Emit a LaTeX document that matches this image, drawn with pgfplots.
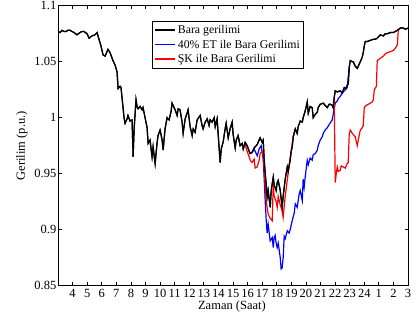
\documentclass[border=0pt]{standalone}
\usepackage{fontspec}
\setmainfont{Liberation Serif}
\usepackage{pgfplots}
\usepackage{pgfplotstable}
\pgfplotsset{compat=1.18}
\pgfplotstableread{
x y
3.00 1.077
3.14 1.076
3.27 1.078
3.41 1.077
3.55 1.077
3.68 1.078
3.82 1.078
3.96 1.077
4.10 1.076
4.30 1.074
4.51 1.076
4.64 1.077
4.78 1.077
4.99 1.075
5.13 1.071
5.33 1.073
5.54 1.074
5.68 1.076
5.81 1.070
5.95 1.064
6.09 1.056
6.23 1.055
6.43 1.061
6.57 1.058
6.77 1.051
6.91 1.047
7.05 1.041
7.12 1.026
7.26 1.028
7.32 1.027
7.39 1.018
7.46 1.009
7.53 1.000
7.60 0.995
7.74 0.999
7.80 1.002
7.94 0.997
8.08 0.998
8.15 0.965
8.22 0.990
8.35 1.016
8.42 1.010
8.49 1.008
8.63 1.010
8.77 1.007
8.83 1.009
8.97 1.000
9.11 0.991
9.18 0.977
9.31 0.980
9.45 0.965
9.52 0.974
9.66 0.959
9.79 0.977
9.86 0.984
10.00 0.989
10.14 0.980
10.21 0.971
10.34 0.990
10.48 1.000
10.62 0.998
10.76 1.006
10.82 1.013
10.96 1.009
11.03 1.007
11.17 1.002
11.24 1.008
11.37 1.007
11.51 0.996
11.58 0.986
11.72 0.999
11.85 1.004
11.92 1.007
12.06 0.992
12.20 0.984
12.27 0.990
12.40 0.987
12.54 0.998
12.75 1.002
12.88 0.993
12.95 0.990
13.09 0.996
13.23 0.999
13.36 0.993
13.43 0.998
13.57 0.996
13.71 1.000
13.78 0.992
13.91 0.999
13.98 0.986
14.12 0.960
14.19 0.972
14.32 0.978
14.46 0.990
14.53 0.995
14.67 0.982
14.80 0.990
14.94 0.996
15.01 0.985
15.15 0.973
15.22 0.980
15.35 0.984
15.49 0.975
15.63 0.977
15.70 0.972
15.83 0.978
15.97 0.975
16.11 0.970
16.18 0.968
16.31 0.969
16.45 0.973
16.52 0.974
16.66 0.976
16.79 0.980
16.86 0.982
17.00 0.978
17.07 0.980
17.14 0.962
17.21 0.950
17.28 0.940
17.34 0.929
17.41 0.935
17.55 0.920
17.62 0.935
17.76 0.947
17.82 0.940
17.96 0.935
18.03 0.942
18.10 0.944
18.24 0.935
18.30 0.928
18.37 0.920
18.44 0.930
18.58 0.945
18.72 0.956
18.78 0.952
18.92 0.962
18.99 0.970
19.06 0.974
19.13 0.983
19.27 0.990
19.40 0.986
19.47 0.992
19.61 0.997
19.75 0.996
19.81 1.000
19.95 1.006
20.09 1.014
20.16 1.004
20.29 1.010
20.43 1.009
20.50 1.000
20.64 1.003
20.78 1.005
20.84 1.009
20.98 1.012
21.19 1.013
21.32 1.011
21.46 1.009
21.60 1.012
21.67 1.012
21.80 1.011
21.87 1.009
21.94 1.018
22.01 1.024
22.15 1.023
22.35 1.024
22.49 1.022
22.63 1.027
22.77 1.026
22.83 1.029
22.90 1.030
22.97 1.045
23.04 1.051
23.18 1.050
23.25 1.050
23.38 1.046
23.52 1.044
23.66 1.048
23.73 1.050
23.86 1.054
23.93 1.058
24.00 1.064
24.07 1.068
24.21 1.068
24.41 1.069
24.62 1.070
24.76 1.070
24.89 1.071
25.10 1.074
25.31 1.073
25.44 1.075
25.58 1.075
25.79 1.076
25.99 1.076
26.13 1.077
26.27 1.078
26.47 1.080
26.68 1.080
26.82 1.079
27.00 1.080
}\blackdata
\begin{document}
\begin{tikzpicture}[x=1pt,y=1pt]
\begin{axis}[
  scale only axis, width=350pt, height=280pt,
  xmin=3, xmax=27, ymin=0.85, ymax=1.1,
  xtick={4,5,...,27},
  xticklabels={4,5,6,7,8,9,10,11,12,13,14,15,16,17,18,19,20,21,22,23,24,1,2,3},
  ytick={0.85,0.9,0.95,1,1.05,1.1},
  yticklabels={0.85,0.9,0.95,1,1.05,1.1},
  tick align=inside, major tick length=3.5pt,
  tick style={black, line width=0.8pt},
  axis line style={line width=0.8pt},
  font=\fontsize{12.5}{14}\selectfont,
  ticklabel style={font=\fontsize{12.5}{14}\selectfont},
  xticklabel style={inner sep=1pt, yshift=-2pt},
  yticklabel style={inner sep=1pt, xshift=-0.5pt},
  xlabel={Zaman (Saat)}, ylabel={Gerilim (p.u.)},
  xlabel style={at={(axis description cs:0.497,-0.075)}, anchor=center},
  ylabel style={at={(axis description cs:-0.103,0.5)}, anchor=center},
  legend style={at={(rel axis cs:0.2686,0.946)}, anchor=north west, line width=0.8pt,
    font=\fontsize{11.8}{13}\selectfont, inner xsep=2pt, inner ysep=2.5pt, row sep=0.8pt},
  legend cell align=left,
  legend image code/.code={\draw[#1, line width=1.5pt] (0pt,0.4pt) -- (20pt,0.4pt);},
]
% black (under, for legend)
\addplot[black, line width=1.2pt] table[x=x,y=y] {\blackdata};
\addlegendentry{Bara gerilimi}
% blue deviation
\addplot[color=blue, line width=1.2pt] table {
16.31 0.969
16.45 0.972
16.52 0.970
16.66 0.966
16.79 0.972
16.93 0.975
17.07 0.963
17.14 0.945
17.21 0.925
17.28 0.908
17.34 0.897
17.41 0.905
17.55 0.890
17.69 0.893
17.76 0.884
17.82 0.893
17.89 0.895
17.96 0.888
18.03 0.884
18.10 0.888
18.24 0.875
18.30 0.865
18.37 0.866
18.44 0.875
18.51 0.894
18.58 0.892
18.72 0.899
18.85 0.897
18.92 0.900
19.06 0.908
19.20 0.915
19.27 0.923
19.40 0.920
19.54 0.932
19.61 0.935
19.75 0.926
19.81 0.945
19.88 0.938
19.95 0.947
20.09 0.962
20.16 0.958
20.29 0.964
20.43 0.962
20.50 0.967
20.64 0.968
20.78 0.971
20.84 0.975
20.98 0.980
21.12 0.983
21.19 0.986
21.32 0.989
21.46 0.991
21.60 0.994
21.80 0.998
21.87 1.003
22.01 1.013
22.15 1.015
22.22 1.017
22.35 1.019
22.49 1.022
22.63 1.024
22.83 1.027
22.97 1.045
};
\addlegendentry{40\% ET ile Bara Gerilimi}
% red deviations
\addplot[color=red, line width=1.2pt] table {
15.70 0.972
15.83 0.976
15.97 0.970
16.11 0.965
16.18 0.962
16.31 0.960
16.45 0.963
16.52 0.955
16.66 0.956
16.79 0.962
16.86 0.968
17.00 0.970
17.07 0.965
17.14 0.955
17.21 0.938
17.28 0.925
17.41 0.914
17.55 0.910
17.69 0.908
17.76 0.941
17.82 0.930
17.96 0.925
18.03 0.920
18.10 0.930
18.24 0.922
18.37 0.917
18.44 0.911
18.58 0.930
18.72 0.944
18.85 0.958
18.99 0.970
19.13 0.983
19.27 0.990
};
\addlegendentry{ŞK ile Bara Gerilimi}
\addplot[red, line width=1.2pt, forget plot] table {
21.87 1.009
21.94 1.018
22.01 0.942
22.08 0.950
22.15 0.956
22.22 0.952
22.35 0.953
22.42 0.957
22.56 0.956
22.70 0.955
22.83 0.959
22.90 0.960
22.97 0.985
23.04 0.989
23.18 0.986
23.31 0.984
23.38 0.983
23.52 0.975
23.59 0.980
23.73 0.989
23.86 0.991
23.93 0.993
24.00 1.009
24.14 1.011
24.28 1.012
24.41 1.013
24.55 1.014
24.62 1.016
24.69 1.025
24.83 1.028
24.89 1.051
25.10 1.053
25.31 1.055
25.44 1.057
25.58 1.058
25.79 1.059
25.99 1.060
26.13 1.062
26.27 1.065
26.33 1.078
26.47 1.080
};
% black on top
\addplot[black, line width=1.2pt, forget plot] table[x=x,y=y] {\blackdata};
\end{axis}
\pgfresetboundingbox
\path[use as bounding box] ([xshift=-58pt,yshift=-39.3pt]current axis.south west) rectangle ([xshift=12pt,yshift=5.7pt]current axis.north east);
\end{tikzpicture}
\end{document}
